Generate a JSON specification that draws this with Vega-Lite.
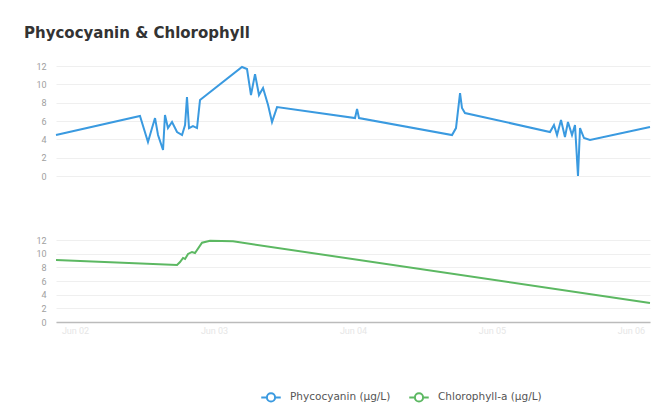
{
  "$schema": "https://vega.github.io/schema/vega-lite/v6.json",
  "background": "white",
  "padding": {"left": 24, "top": 26, "right": 6, "bottom": 4},
  "title": {"text": "Phycocyanin & Chlorophyll", "anchor": "start", "frame": "group", "dx": -32, "fontSize": 15, "fontWeight": "bold", "font": "DejaVu Sans", "color": "#333333", "offset": 21},
  "datasets": {
    "phyco": [
      {"time": "2024-06-01T20:43", "value": 4.47, "series": "Phycocyanin (µg/L)"},
      {"time": "2024-06-02T11:13", "value": 6.54, "series": "Phycocyanin (µg/L)"},
      {"time": "2024-06-02T12:36", "value": 3.71, "series": "Phycocyanin (µg/L)"},
      {"time": "2024-06-02T13:18", "value": 5.23, "series": "Phycocyanin (µg/L)"},
      {"time": "2024-06-02T13:49", "value": 6.32, "series": "Phycocyanin (µg/L)"},
      {"time": "2024-06-02T14:20", "value": 4.47, "series": "Phycocyanin (µg/L)"},
      {"time": "2024-06-02T15:12", "value": 2.84, "series": "Phycocyanin (µg/L)"},
      {"time": "2024-06-02T15:32", "value": 6.65, "series": "Phycocyanin (µg/L)"},
      {"time": "2024-06-02T16:03", "value": 5.23, "series": "Phycocyanin (µg/L)"},
      {"time": "2024-06-02T16:45", "value": 5.89, "series": "Phycocyanin (µg/L)"},
      {"time": "2024-06-02T17:37", "value": 4.8, "series": "Phycocyanin (µg/L)"},
      {"time": "2024-06-02T18:29", "value": 4.47, "series": "Phycocyanin (µg/L)"},
      {"time": "2024-06-02T19:00", "value": 5.56, "series": "Phycocyanin (µg/L)"},
      {"time": "2024-06-02T19:20", "value": 8.6, "series": "Phycocyanin (µg/L)"},
      {"time": "2024-06-02T19:41", "value": 5.23, "series": "Phycocyanin (µg/L)"},
      {"time": "2024-06-02T20:22", "value": 5.45, "series": "Phycocyanin (µg/L)"},
      {"time": "2024-06-02T21:04", "value": 5.23, "series": "Phycocyanin (µg/L)"},
      {"time": "2024-06-02T21:35", "value": 8.29, "series": "Phycocyanin (µg/L)"},
      {"time": "2024-06-03T04:50", "value": 11.89, "series": "Phycocyanin (µg/L)"},
      {"time": "2024-06-03T05:42", "value": 11.67, "series": "Phycocyanin (µg/L)"},
      {"time": "2024-06-03T06:23", "value": 8.83, "series": "Phycocyanin (µg/L)"},
      {"time": "2024-06-03T07:05", "value": 11.12, "series": "Phycocyanin (µg/L)"},
      {"time": "2024-06-03T07:46", "value": 8.83, "series": "Phycocyanin (µg/L)"},
      {"time": "2024-06-03T08:28", "value": 9.6, "series": "Phycocyanin (µg/L)"},
      {"time": "2024-06-03T09:20", "value": 7.74, "series": "Phycocyanin (µg/L)"},
      {"time": "2024-06-03T10:01", "value": 5.89, "series": "Phycocyanin (µg/L)"},
      {"time": "2024-06-03T10:53", "value": 7.52, "series": "Phycocyanin (µg/L)"},
      {"time": "2024-06-04T00:21", "value": 6.32, "series": "Phycocyanin (µg/L)"},
      {"time": "2024-06-04T00:42", "value": 7.31, "series": "Phycocyanin (µg/L)"},
      {"time": "2024-06-04T01:02", "value": 6.32, "series": "Phycocyanin (µg/L)"},
      {"time": "2024-06-04T17:06", "value": 4.47, "series": "Phycocyanin (µg/L)"},
      {"time": "2024-06-04T17:47", "value": 5.23, "series": "Phycocyanin (µg/L)"},
      {"time": "2024-06-04T18:29", "value": 9.05, "series": "Phycocyanin (µg/L)"},
      {"time": "2024-06-04T18:49", "value": 7.42, "series": "Phycocyanin (µg/L)"},
      {"time": "2024-06-04T19:20", "value": 6.87, "series": "Phycocyanin (µg/L)"},
      {"time": "2024-06-05T10:01", "value": 4.8, "series": "Phycocyanin (µg/L)"},
      {"time": "2024-06-05T10:42", "value": 5.56, "series": "Phycocyanin (µg/L)"},
      {"time": "2024-06-05T11:14", "value": 4.47, "series": "Phycocyanin (µg/L)"},
      {"time": "2024-06-05T11:55", "value": 6.1, "series": "Phycocyanin (µg/L)"},
      {"time": "2024-06-05T12:36", "value": 4.25, "series": "Phycocyanin (µg/L)"},
      {"time": "2024-06-05T13:07", "value": 5.89, "series": "Phycocyanin (µg/L)"},
      {"time": "2024-06-05T13:49", "value": 4.47, "series": "Phycocyanin (µg/L)"},
      {"time": "2024-06-05T14:20", "value": 5.56, "series": "Phycocyanin (µg/L)"},
      {"time": "2024-06-05T14:51", "value": 0.0, "series": "Phycocyanin (µg/L)"},
      {"time": "2024-06-05T15:12", "value": 5.23, "series": "Phycocyanin (µg/L)"},
      {"time": "2024-06-05T15:53", "value": 4.14, "series": "Phycocyanin (µg/L)"},
      {"time": "2024-06-05T16:55", "value": 3.93, "series": "Phycocyanin (µg/L)"},
      {"time": "2024-06-06T03:17", "value": 5.34, "series": "Phycocyanin (µg/L)"}
    ],
    "chl": [
      {"time": "2024-06-01T20:43", "value": 9.08, "series": "Chlorophyll-a (µg/L)"},
      {"time": "2024-06-02T17:37", "value": 8.35, "series": "Chlorophyll-a (µg/L)"},
      {"time": "2024-06-02T18:08", "value": 8.78, "series": "Chlorophyll-a (µg/L)"},
      {"time": "2024-06-02T18:39", "value": 9.37, "series": "Chlorophyll-a (µg/L)"},
      {"time": "2024-06-02T19:00", "value": 9.22, "series": "Chlorophyll-a (µg/L)"},
      {"time": "2024-06-02T19:31", "value": 9.96, "series": "Chlorophyll-a (µg/L)"},
      {"time": "2024-06-02T20:12", "value": 10.25, "series": "Chlorophyll-a (µg/L)"},
      {"time": "2024-06-02T20:43", "value": 10.1, "series": "Chlorophyll-a (µg/L)"},
      {"time": "2024-06-02T21:56", "value": 11.6, "series": "Chlorophyll-a (µg/L)"},
      {"time": "2024-06-02T23:19", "value": 11.9, "series": "Chlorophyll-a (µg/L)"},
      {"time": "2024-06-03T03:17", "value": 11.8, "series": "Chlorophyll-a (µg/L)"},
      {"time": "2024-06-06T03:17", "value": 2.78, "series": "Chlorophyll-a (µg/L)"}
    ]
  },
  "vconcat": [
    {
      "width": 594,
      "height": 110,
      "data": {"name": "phyco"},
      "mark": {"type": "line", "strokeWidth": 2},
      "encoding": {
        "x": {"field": "time", "type": "temporal", "scale": {"domain": [{"year": 2024, "month": 6, "date": 1, "hours": 20, "minutes": 43}, {"year": 2024, "month": 6, "date": 6, "hours": 3, "minutes": 17}]}, "axis": null},
        "y": {"field": "value", "type": "quantitative", "scale": {"domain": [0, 12]}, "axis": {"values": [0, 2, 4, 6, 8, 10, 12], "title": null}},
        "color": {"field": "series", "type": "nominal", "scale": {"domain": ["Phycocyanin (µg/L)", "Chlorophyll-a (µg/L)"], "range": ["#3a9ae0", "#5cb862"]}, "legend": {"orient": "none", "legendX": 204, "legendY": 320, "direction": "horizontal", "title": null, "symbolType": "M-1,0H-0.42M0.42,0H1M-0.42,0A0.42,0.42 0 1,1 0.42,0A0.42,0.42 0 1,1 -0.42,0Z", "symbolSize": 380, "symbolStrokeWidth": 2, "symbolFillColor": "white", "labelFontSize": 10.5, "labelColor": "#555555", "labelFont": "DejaVu Sans", "labelOffset": 8, "columnPadding": 14}}
      }
    },
    {
      "width": 594,
      "height": 82,
      "data": {"name": "chl"},
      "mark": {"type": "line", "strokeWidth": 2},
      "encoding": {
        "x": {"field": "time", "type": "temporal", "scale": {"domain": [{"year": 2024, "month": 6, "date": 1, "hours": 20, "minutes": 43}, {"year": 2024, "month": 6, "date": 6, "hours": 3, "minutes": 17}]}, "axis": {"grid": false, "domain": true, "domainColor": "#bbbbbb", "domainWidth": 1.5, "labelColor": "#e6e6e6", "labelPadding": 4, "format": "%b %d", "tickCount": {"interval": "day", "step": 1}, "title": null}},
        "y": {"field": "value", "type": "quantitative", "scale": {"domain": [0, 12]}, "axis": {"values": [0, 2, 4, 6, 8, 10, 12], "title": null}},
        "color": {"field": "series", "type": "nominal"}
      }
    }
  ],
  "spacing": 64,
  "bounds": "flush",
  "resolve": {"scale": {"color": "shared", "x": "shared"}},
  "config": {
    "view": {"stroke": null},
    "axis": {"grid": true, "gridColor": "#efefef", "domain": false, "ticks": false, "labelColor": "#a0a0a0", "labelFontSize": 9, "labelFont": "Roboto", "labelPadding": 10}
  }
}
